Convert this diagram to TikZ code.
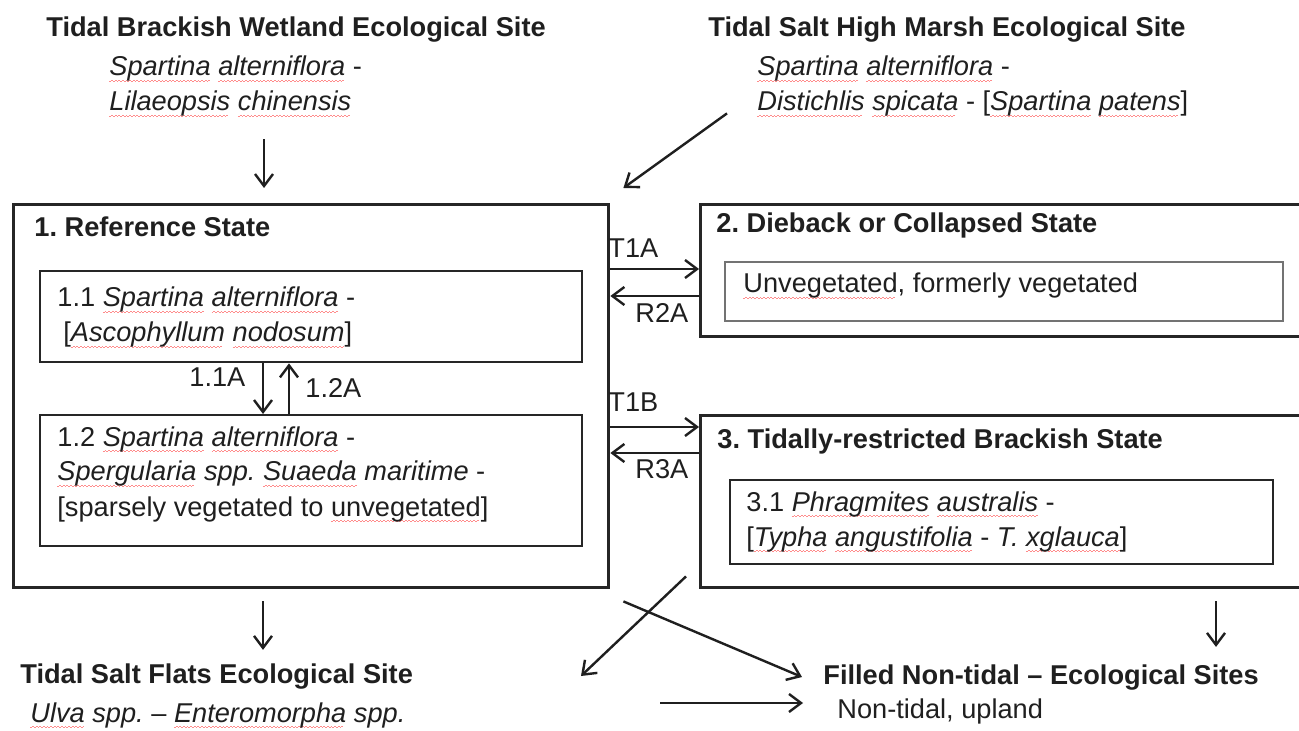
\documentclass[tikz,border=0pt]{standalone}
\usepackage{fontspec}
\setmainfont{Liberation Sans}
\usetikzlibrary{arrows.meta}
\frenchspacing

%   red spell-check squiggle under a word
\newsavebox\sqbox
\newcommand\wavebit{\rule{0.9pt}{0.55pt}\rule[0.55pt]{0.9pt}{0.55pt}}
\newcommand\sq[1]{\sbox\sqbox{#1}\rlap{\raisebox{-3pt}{\color{red!45}\hbox to \wd\sqbox{\leaders\hbox{\wavebit}\hfill}}}\usebox\sqbox}
\newcommand\taxon[1]{\textit{\sq{#1}}}

\begin{document}
\begin{tikzpicture}[x=0.5pt, y=-0.5pt,
    every node/.style={inner sep=0pt, text=black!88, font=\fontsize{13.6pt}{17.5pt}\selectfont},
    txt/.style={anchor=base west, align=left},
    ttl/.style={anchor=base west, font=\fontsize{13.6pt}{17.5pt}\selectfont\bfseries},
    outerbox/.style={draw=black!85, line width=1.7pt, anchor=north west},
    innerbox/.style={draw=black!85, line width=1.2pt, anchor=north west},
    arr/.style={-{Straight Barb[length=6pt,width=9pt]}, line width=1.2pt, draw=black!88}]

    \fill[white] (0,0) rectangle (1299,731);
    \useasboundingbox (0,0) rectangle (1299,731);

    %   State boxes
    \node[outerbox, minimum width=297.5pt, minimum height=191.5pt] (ref) at (12,203) {};
    \node[innerbox, minimum width=271pt, minimum height=45.5pt] (s11) at (39,270) {};
    \node[innerbox, minimum width=271pt, minimum height=65.5pt] (s12) at (39,414) {};
    \node[outerbox, minimum width=301pt, minimum height=66pt] (dieback) at (699,203) {};
    \node[draw=black!55, line width=0.8pt, anchor=north west, minimum width=279pt, minimum height=29.5pt] (unveg) at (724,261) {};
    \node[outerbox, minimum width=301pt, minimum height=86pt] (tidal) at (699,414) {};
    \node[innerbox, line width=1.1pt, minimum width=271.5pt, minimum height=42pt] (s31) at (729,479) {};

    %   Neighbouring ecological sites (multi-line texts sit on their last baseline)
    \node[ttl] (brackish) at (46,37) {Tidal Brackish Wetland Ecological Site};
    \node[txt] (brackishspp) at (109,111) {\taxon{Spartina} \taxon{alterniflora} -\\\taxon{Lilaeopsis} \taxon{chinensis}};
    \node[ttl] (highmarsh) at (708,37) {Tidal Salt High Marsh Ecological Site};
    \node[txt] (highmarshspp) at (757,111) {\taxon{Spartina} \taxon{alterniflora} -\\\taxon{Distichlis} \taxon{spicata} - [\taxon{Spartina} \taxon{patens}]};
    \node[ttl] (flats) at (20,683) {Tidal Salt Flats Ecological Site};
    \node[txt] (flatsspp) at (30,722) {\taxon{Ulva} \textit{spp.} -- \taxon{Enteromorpha} \textit{spp.}};
    \node[ttl] (filled) at (823,684) {Filled Non-tidal -- Ecological Sites};
    \node[txt] (upland) at (837,718) {Non-tidal, upland};

    %   Text inside the states
    \node[ttl] (reftitle) at (34,237) {1. Reference State};
    \node[txt] (s11txt) at (57,342) {1.1 \taxon{Spartina} \taxon{alterniflora} -\\\hspace{3pt}[\taxon{Ascophyllum} \taxon{nodosum}]};
    \node[txt] (s12txt) at (57,516) {1.2 \taxon{Spartina} \taxon{alterniflora} -\\\taxon{Spergularia} \textit{spp.} \taxon{Suaeda} \textit{maritime} -\\{}[sparsely vegetated to \sq{unvegetated}]};
    \node[ttl] (diebacktitle) at (716,233) {2. Dieback or Collapsed State};
    \node[txt] (unvegtxt) at (743,293) {\sq{Unvegetated}, formerly vegetated};
    \node[ttl] (tidaltitle) at (717,448) {3. Tidally-restricted Brackish State};
    \node[txt] (s31txt) at (746,546) {3.1 \taxon{Phragmites} \taxon{australis} -\\{}[\taxon{Typha} \taxon{angustifolia} - \textit{T.} \taxon{xglauca}]};

    %   Transition and restoration labels
    \node[txt] (t1a) at (608,258) {T1A};
    \node[txt] (r2a) at (635,323) {R2A};
    \node[txt] (t1b) at (608,412) {T1B};
    \node[txt] (r3a) at (635,478) {R3A};
    \node[txt] (p11a) at (189,387) {1.1A};
    \node[txt] (p12a) at (305,398) {1.2A};

    %   Free ends of the arrows
    \coordinate (flatsin) at (581,676);
    \coordinate (uplandfrom) at (660,703);

    %   Arrows
    \draw[arr] (s11.south -| 263,0) -- (s12.north -| 263,0);
    \draw[arr] (s12.north -| 289,0) -- (s11.south -| 289,0);
    \draw[arr] (ref.east |- 0,269) -- (dieback.west |- 0,269);
    \draw[arr] (dieback.west |- 0,296) -- (ref.east |- 0,296);
    \draw[arr] (ref.east |- 0,427) -- (tidal.west |- 0,427);
    \draw[arr] (tidal.west |- 0,453) -- (ref.east |- 0,453);
    \draw[arr] ([yshift=-11pt]brackishspp.south -| 264,0) -- ([yshift=7.5pt]ref.north -| 264,0);
    \draw[arr] ([xshift=-15pt,yshift=2pt]highmarshspp.south west) -- ([xshift=6.5pt,yshift=7.5pt]ref.north east);
    \draw[arr] ([yshift=-6pt]ref.south -| 263,0) -- ([yshift=6.5pt]flats.north -| 263,0);
    \draw[arr] ([xshift=-6.5pt,yshift=6.5pt]tidal.south west) -- (flatsin);
    \draw[arr] ([xshift=6.5pt,yshift=-6pt]ref.south east) -- ([xshift=-10.5pt]filled.west);
    \draw[arr] (uplandfrom) -- ([xshift=-17pt]upland.west |- uplandfrom);
    \draw[arr] ([yshift=-6pt]tidal.south -| 1216,0) -- ([yshift=8.5pt]filled.north -| 1216,0);
\end{tikzpicture}
\end{document}
